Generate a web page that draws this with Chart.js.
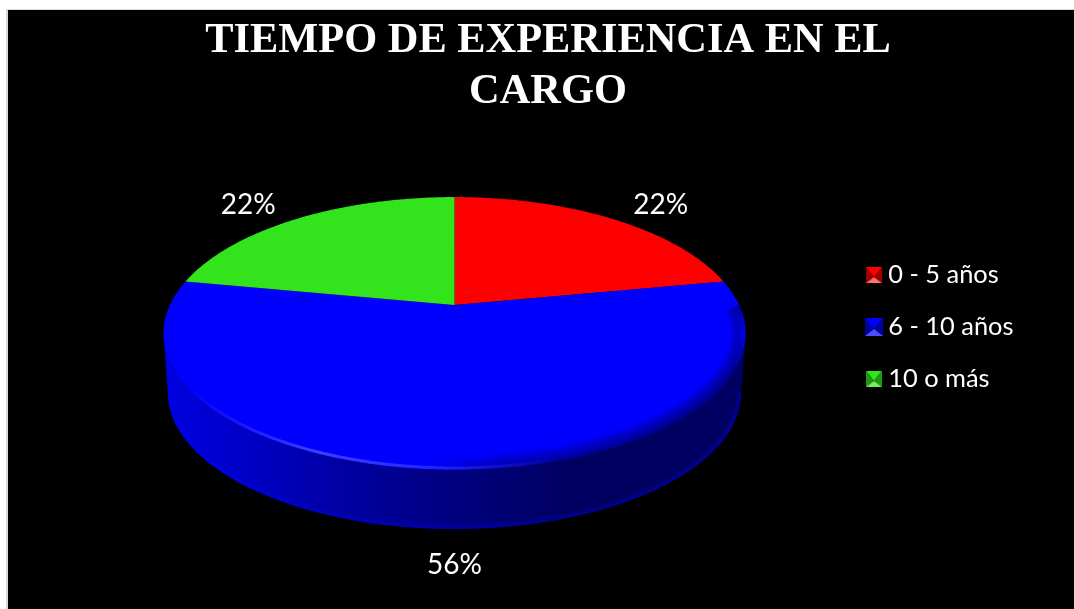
<!DOCTYPE html>
<html><head><meta charset="utf-8">
<style>html,body{margin:0;padding:0;background:#fff}#w{position:absolute;left:0;top:0;width:1074px;height:609px}</style>
<script src="https://cdn.jsdelivr.net/npm/chart.js@4"></script>
</head><body><div id="w"><canvas id="c" width="1074" height="609"></canvas></div>
<script>
const titleLines = ['TIEMPO DE EXPERIENCIA EN EL', 'CARGO'];
const categories = ['0 - 5 años', '6 - 10 años', '10 o más'];
const values = [22, 56, 22];
const colors = ['#ff0000', '#0000ff', '#33e31c'];
const bevelDark = ['#a00000', '#0000a0', '#1c9a10'];
const bevelLight = ['#ff7070', '#4a4aff', '#70f060'];

// perspective of the disc
const G = {cx: 454.5, y0: 305, R: 284.6, b: 130.5, k: 0.209, depth: 59, shrink: 0.985};
const LABEL_OFFSET = [[50, -13], [0, 95], [-50, -13]];

function proj(t, dy, sh) {
  const u = Math.cos(t), v = Math.sin(t);
  const s = 1 / (1 - G.k * v);
  return [G.cx + G.R * u * s * (sh || 1), G.y0 + G.b * v * s + (dy || 0)];
}
function rimPath(ctx, a0, a1, dy, sh, move) {
  const n = 160;
  for (let i = 0; i <= n; i++) {
    const t = a0 + (a1 - a0) * i / n, p = proj(t, dy, sh);
    if (i === 0 && move) ctx.moveTo(p[0], p[1]); else ctx.lineTo(p[0], p[1]);
  }
}
function bevelIcon(i) {
  const s = i === 1 ? 18 : 16, c = document.createElement('canvas');
  c.width = s; c.height = s;
  const x = c.getContext('2d'), m = s / 2;
  const tri = (a, b, col) => { x.fillStyle = col; x.beginPath(); x.moveTo(a[0], a[1]); x.lineTo(b[0], b[1]); x.lineTo(m, m + 2); x.closePath(); x.fill(); };
  tri([0, 0], [s, 0], colors[i]);
  tri([0, 0], [0, s], bevelDark[i]);
  tri([s, 0], [s, s], bevelDark[i]);
  tri([0, s], [s, s], bevelLight[i]);
  return c;
}
const pie3d = {
  id: 'pie3d',
  beforeDraw(chart) {
    const c = chart.ctx;
    c.save();
    c.fillStyle = '#fff'; c.fillRect(0, 0, 1074, 609);
    c.fillStyle = '#d9d9d9'; c.fillRect(6, 9, 1068, 600);
    c.fillStyle = '#000'; c.fillRect(8, 10, 1066, 599);
    c.restore();
  },
  afterLayout(chart) {
    const l = chart.legend, h = l.bottom - l.top;
    l.left = 846; l.right = 1074;
    l.top = 327 - h / 2; l.bottom = l.top + h;
  },
  beforeDatasetDraw(chart, args) {
    const c = chart.ctx, arcs = chart.getDatasetMeta(args.index).data;
    const tangent = Math.asin(G.k);
    c.save();
    arcs.forEach((a) => {
      const o = a.getProps(['startAngle', 'endAngle']);
      if (Math.sin((o.startAngle + o.endAngle) / 2) <= 0) return;
      // the wall spans the silhouette of the disc, from one widest point to the other
      const side = new Path2D();
      rimPath(side, tangent, Math.PI - tangent, 0, 1, true);
      rimPath(side, Math.PI - tangent, tangent, G.depth, G.shrink, false);
      side.closePath();
      const g = c.createLinearGradient(163, 0, 745, 0);
      g.addColorStop(0, '#0000e0'); g.addColorStop(0.1, '#0000d0');
      g.addColorStop(0.3, '#0000a4'); g.addColorStop(0.5, '#000080');
      g.addColorStop(0.7, '#000060'); g.addColorStop(1, '#000064');
      c.fillStyle = g; c.fill(side);
      // soft lighter edge along the bottom of the wall
      c.save();
      c.clip(side);
      const ring = new Path2D();
      rimPath(ring, tangent, Math.PI - tangent, G.depth, G.shrink, true);
      c.strokeStyle = 'rgba(0,0,255,0.13)';
      [9, 6, 3].forEach((w) => { c.lineWidth = w; c.stroke(ring); });
      c.restore();
    });
    const disc = new Path2D();
    arcs.forEach((a) => {
      const o = a.getProps(['startAngle', 'endAngle']);
      c.beginPath();
      c.moveTo(G.cx, G.y0);
      rimPath(c, o.startAngle, o.endAngle, 0, 1, false);
      c.closePath();
      c.fillStyle = a.options.backgroundColor; c.fill();
    });
    rimPath(disc, 0, Math.PI, 0, 1, true);
    disc.closePath();
    c.save();
    c.clip(disc);
    // inner shade of the right-hand bevel
    const rim = new Path2D();
    rimPath(rim, 0, Math.PI, 0, 1, true);
    const d = c.createLinearGradient(430, 0, 745, 0);
    d.addColorStop(0, 'rgba(0,0,96,0)'); d.addColorStop(0.25, 'rgba(0,0,96,0.11)');
    d.addColorStop(0.75, 'rgba(0,0,96,0.16)'); d.addColorStop(0.97, 'rgba(0,0,96,0.16)'); d.addColorStop(1, 'rgba(0,0,96,0)');
    c.strokeStyle = d;
    [30, 25, 20, 15, 11, 7, 4].forEach((w) => { c.lineWidth = w; c.stroke(rim); });
    c.restore();
    // highlight of the left-hand bevel
    const h = c.createLinearGradient(190, 0, 560, 0);
    h.addColorStop(0, 'rgba(70,70,255,0)'); h.addColorStop(0.35, 'rgba(70,70,255,0.9)');
    h.addColorStop(0.7, 'rgba(70,70,255,0.45)'); h.addColorStop(1, 'rgba(70,70,255,0)');
    const hl = new Path2D();
    rimPath(hl, Math.PI * 0.32, Math.PI * 0.9, -2, 1, true);
    c.strokeStyle = h; c.lineWidth = 3; c.stroke(hl);
    c.restore();
    return false;
  },
  afterDatasetsDraw(chart) {
    const c = chart.ctx, arcs = chart.getDatasetMeta(0).data;
    c.save();
    c.font = '28px Lato'; c.fillStyle = '#fff'; c.textAlign = 'center'; c.textBaseline = 'middle';
    arcs.forEach((a, i) => {
      const o = a.getProps(['startAngle', 'endAngle']);
      const p = proj((o.startAngle + o.endAngle) / 2);
      c.fillText(values[i] + '%', p[0] + LABEL_OFFSET[i][0], p[1] + LABEL_OFFSET[i][1]);
    });
    c.restore();
  }
};
new Chart(document.getElementById('c'), {
  type: 'pie',
  data: { labels: categories, datasets: [{ data: values, backgroundColor: colors, borderWidth: 0 }] },
  plugins: [pie3d],
  options: {
    responsive: false, animation: false,
    layout: { padding: { left: 22, top: 16 } },
    plugins: {
      tooltip: { enabled: false },
      title: { display: true, text: titleLines, color: '#fff', font: { family: '"Liberation Serif"', size: 42.4, weight: 'bold', lineHeight: 1.19 }, padding: 0 },
      legend: {
        position: 'right',
        labels: {
          color: '#fff', font: { family: 'Lato', size: 25.4 }, padding: 26.5,
          usePointStyle: true, pointStyleWidth: 3,
          generateLabels: () => categories.map((t, i) => ({ text: t, fillStyle: colors[i], strokeStyle: colors[i], fontColor: '#fff', pointStyle: bevelIcon(i), index: i, lineWidth: 0 }))
        }
      }
    }
  }
});
</script></body></html>
